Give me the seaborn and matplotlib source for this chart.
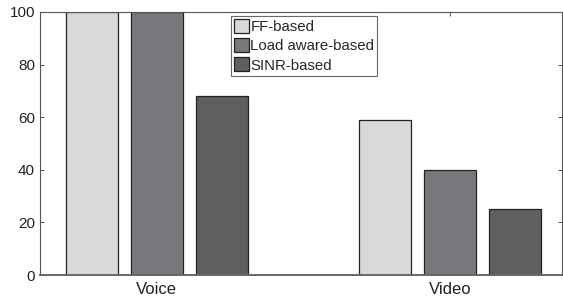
import matplotlib
matplotlib.use("Agg")
import matplotlib.pyplot as plt
import seaborn as sns
import pandas as pd

categories = ["Voice", "Video"]
series = ["FF-based", "Load aware-based", "SINR-based"]
ff_values = [100, 59]
load_values = [100, 40]
sinr_values = [68, 25]
yticks = [0, 20, 40, 60, 80, 100]
colors = ["#d9d9db", "#77787b", "#5f5f61"]

rows = []
for s, vals in zip(series, [ff_values, load_values, sinr_values]):
    for c, v in zip(categories, vals):
        rows.append({"category": c, "method": s, "value": v})
df = pd.DataFrame(rows)

sns.set_style("white")
plt.rcParams["font.family"] = ["Liberation Sans", "DejaVu Sans"]

fig = plt.figure(figsize=(5.63, 3.03), dpi=100)
ax = fig.add_axes([0.071, 0.0924, 0.927, 0.868])
sns.barplot(data=df, x="category", y="value", hue="method", order=categories,
            hue_order=series, palette=colors, width=0.666, gap=0.2,
            edgecolor="#222222", linewidth=0.9, saturation=1, ax=ax)

ax.set_xlim(-0.398, 1.382)
ax.set_ylim(0, 100)
ax.set_yticks(yticks)
ax.set_xlabel("")
ax.set_ylabel("")
ax.tick_params(axis="both", direction="in", labelsize=11, colors="#333333",
               length=3, width=0.6, top=True, right=True, bottom=True, left=True,
               labelcolor="#222222")
ax.tick_params(axis="x", labelsize=12, pad=5)
for sp in ax.spines.values():
    sp.set_visible(True)
    sp.set_color("#555555")
    sp.set_linewidth(0.8)
ax.spines["bottom"].set_linewidth(1.4)
ax.spines["bottom"].set_color("#666666")

leg = ax.legend(loc="upper left", bbox_to_anchor=(0.366, 0.985), frameon=True,
                fancybox=False, fontsize=10.8, handlelength=0.98, handleheight=1.05,
                handletextpad=0.12, borderpad=0.2, labelspacing=0.28,
                borderaxespad=0)
leg.get_frame().set_edgecolor("#444444")
leg.get_frame().set_linewidth(0.8)

fig.savefig("out.png", dpi=100)
